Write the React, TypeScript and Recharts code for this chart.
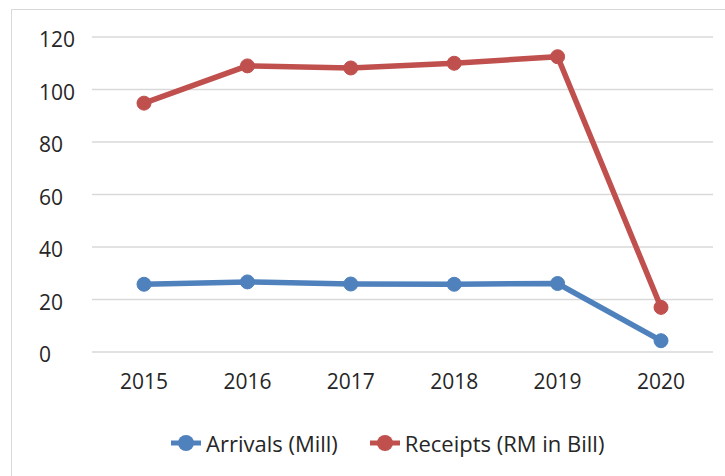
import React from 'react';
import { LineChart, Line, XAxis, YAxis, CartesianGrid } from 'recharts';

const years = ['2015', '2016', '2017', '2018', '2019', '2020'];
const arrivals = [25.8, 26.7, 25.9, 25.8, 26.1, 4.3];
const receipts = [94.8, 109.0, 108.2, 110.0, 112.5, 17.0];
const yTicks = [0, 20, 40, 60, 80, 100, 120];

const seriesNames = ['Arrivals (Mill)', 'Receipts (RM in Bill)'];
const colors = ['#4F81BD', '#C0504D'];

const data = years.map((y, i) => ({ year: y, arrivals: arrivals[i], receipts: receipts[i] }));

const FONT = '"Open Sans", sans-serif';
const TEXT = '#262626';

const YTick = (props: any) => {
  const { y, payload } = props;
  return (
    <text x={39} y={y} dy={10} fontFamily={FONT} fontSize={21} fill={TEXT} textAnchor="start">
      {payload.value}
    </text>
  );
};

const XTick = (props: any) => {
  const { x, y, payload } = props;
  return (
    <text x={x} y={y} dy={29} fontFamily={FONT} fontSize={21} fill={TEXT} textAnchor="middle">
      {payload.value}
    </text>
  );
};

const LegendItem = ({ color, label, gap }: { color: string; label: string; gap: number }) => (
  <div style={{ display: 'flex', alignItems: 'center', marginRight: gap }}>
    <svg width={30} height={20} style={{ marginRight: 5 }}>
      <line x1={0} y1={10} x2={30} y2={10} stroke={color} strokeWidth={5} />
      <circle cx={15} cy={10} r={8} fill={color} />
    </svg>
    <span style={{ fontFamily: FONT, fontSize: 22, color: TEXT, whiteSpace: 'nowrap' }}>{label}</span>
  </div>
);

export default function App() {
  return (
    <div style={{ position: 'absolute', left: 0, top: 0, width: 725, height: 476, background: '#fff', overflow: 'hidden' }}>
      <div
        style={{
          position: 'absolute',
          left: 11,
          top: 9,
          width: 740,
          height: 490,
          border: '1px solid #d9d9d9',
          boxSizing: 'border-box',
        }}
      />
      <div style={{ position: 'absolute', left: 0, top: 0 }}>
        <LineChart width={725} height={476} data={data} margin={{ top: 37, right: 12, left: 0, bottom: 84 }}>
          <CartesianGrid vertical={false} stroke="#d9d9d9" strokeWidth={1.5} />
          <XAxis
            dataKey="year"
            axisLine={false}
            tickLine={false}
            height={40}
            tick={<XTick />}
            interval={0}
            padding={{ left: 52, right: 52 }}
          />
          <YAxis
            domain={[0, 120]}
            ticks={yTicks}
            axisLine={false}
            tickLine={false}
            width={92}
            tick={<YTick />}
          />
          <Line
            type="linear"
            dataKey="arrivals"
            name={seriesNames[0]}
            stroke={colors[0]}
            strokeWidth={5.5}
            dot={{ r: 7, fill: colors[0], stroke: colors[0], strokeWidth: 1 }}
            isAnimationActive={false}
          />
          <Line
            type="linear"
            dataKey="receipts"
            name={seriesNames[1]}
            stroke={colors[1]}
            strokeWidth={5.5}
            dot={{ r: 7, fill: colors[1], stroke: colors[1], strokeWidth: 1 }}
            isAnimationActive={false}
          />
        </LineChart>
      </div>
      <div style={{ position: 'absolute', left: 171, top: 428, display: 'flex' }}>
        <LegendItem color={colors[0]} label={seriesNames[0]} gap={32} />
        <LegendItem color={colors[1]} label={seriesNames[1]} gap={0} />
      </div>
    </div>
  );
}
